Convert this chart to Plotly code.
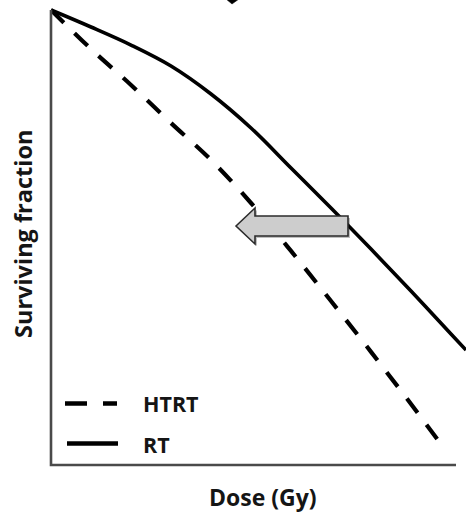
import plotly.graph_objects as go

# Cell survival curves (log scale) for radiotherapy alone and hyperthermia + radiotherapy
dose_rt = [0, 1, 2, 3, 4, 5, 6, 7, 8, 9, 10, 10.375]
sf_rt = [1.0, 0.650, 0.412, 0.2424, 0.1194, 0.0505, 0.01835, 0.00667, 0.00236,
         0.000817, 0.000275, 0.000183]

dose_htrt = [0, 1, 2, 3, 4, 5, 6, 7, 8, 9, 9.8]
sf_htrt = [1.0, 0.373, 0.150, 0.0573, 0.0225, 0.00757, 0.00225, 0.000634,
           0.000175, 4.68e-5, 1.58e-5]

series_names = ["HTRT", "RT"]
x_title = "Dose (Gy)"
y_title = "Surviving fraction"

W, H = 466, 512
ML, MR, MT, MB = 51, 0, 0, 47
PW, PH = W - ML - MR, H - MT - MB


def px(x):
    # pixel column -> paper x
    return (x - ML) / PW


def py(y):
    # pixel row -> paper y
    return (MT + PH - y) / PH


fig = go.Figure()
fig.add_trace(go.Scatter(x=dose_htrt, y=sf_htrt, mode="lines", name=series_names[0],
                         line=dict(color="black", width=4.2, dash="18px,15px", shape="spline"),
                         showlegend=False))
fig.add_trace(go.Scatter(x=dose_rt, y=sf_rt, mode="lines", name=series_names[1],
                         line=dict(color="black", width=3.6, shape="spline"),
                         showlegend=False))

shapes = []
# axes lines
shapes.append(dict(type="path", xref="paper", yref="paper",
                   path=f"M {px(51)} {py(10)} L {px(51)} {py(465)} L {px(456)} {py(465)}",
                   line=dict(color="#4a4a4a", width=2.6), layer="above"))

# small arrowhead at top
shapes.append(dict(type="path", xref="paper", yref="paper",
                   path=f"M {px(226)} {py(-1)} L {px(239)} {py(-1)} L {px(232)} {py(4)} Z",
                   fillcolor="black", line=dict(color="black", width=0.5)))


def arrow_path(dx=0, dy=0):
    pts = [(236, 226), (255, 208), (255, 216), (348, 216), (348, 236),
           (255, 236), (255, 244)]
    s = " L ".join(f"{px(x + dx)} {py(y + dy)}" for x, y in pts)
    return "M " + s + " Z"


# shift arrow: shadow then body
shapes.append(dict(type="path", xref="paper", yref="paper", path=arrow_path(2, 2),
                   fillcolor="rgba(0,0,0,0.25)", line=dict(width=0), layer="above"))
shapes.append(dict(type="path", xref="paper", yref="paper", path=arrow_path(),
                   fillcolor="#cdcdcd", line=dict(color="#2b2b2b", width=1.6), layer="above"))

# legend samples
shapes.append(dict(type="line", xref="paper", yref="paper",
                   x0=px(65), x1=px(117), y0=py(403.5), y1=py(403.5),
                   line=dict(color="black", width=4.5, dash="22px,16px")))
shapes.append(dict(type="line", xref="paper", yref="paper",
                   x0=px(67), x1=px(118), y0=py(443.5), y1=py(443.5),
                   line=dict(color="black", width=4.5)))


def font(size):
    return dict(family="Open Sans", color="#151515", size=size, weight="bold")


annotations = [
    dict(text=y_title, xref="paper", yref="paper", x=px(23), y=py(234),
         textangle=-90, showarrow=False, font=font(23.5), xanchor="center", yanchor="middle"),
    dict(text=x_title, xref="paper", yref="paper", x=px(263), y=py(497),
         showarrow=False, font=font(23), xanchor="center", yanchor="middle"),
    dict(text=series_names[0], xref="paper", yref="paper", x=px(141), y=py(403.5),
         showarrow=False, font=font(21.5), xanchor="left", yanchor="middle"),
    dict(text=series_names[1], xref="paper", yref="paper", x=px(141), y=py(444),
         showarrow=False, font=font(21.5), xanchor="left", yanchor="middle"),
]

axis_common = dict(showgrid=False, zeroline=False, showticklabels=False,
                   showline=False, ticks="")
fig.update_layout(
    width=W, height=H,
    margin=dict(l=ML, r=MR, t=MT, b=MB, pad=0),
    paper_bgcolor="white", plot_bgcolor="white",
    xaxis=dict(range=[0, PW / 40], **axis_common),
    yaxis=dict(type="log", range=[-5, 10 / 91], **axis_common),
    shapes=shapes, annotations=annotations,
    showlegend=False,
)

fig.write_html("out.html")
